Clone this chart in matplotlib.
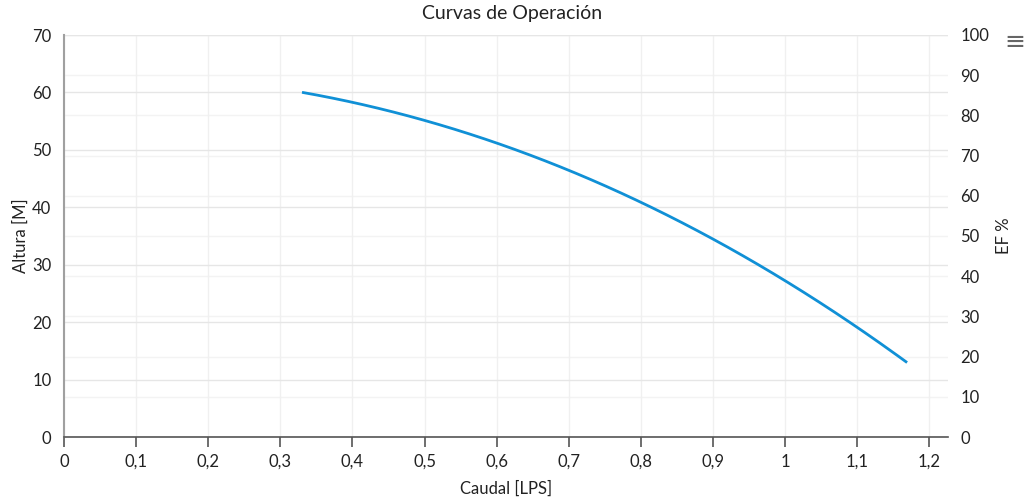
import matplotlib
matplotlib.use("Agg")
import matplotlib.pyplot as plt
import numpy as np

plt.rcParams['font.family'] = ['Lato', 'DejaVu Sans']

title = "Curvas de Operación"
caudal = [0.33, 0.40, 0.50, 0.60, 0.70, 0.80, 0.90, 1.00, 1.10, 1.169]
altura = [60.0, 58.3, 55.2, 51.0, 46.5, 41.0, 34.3, 27.3, 19.0, 13.0]
x_ticks = [0, 0.1, 0.2, 0.3, 0.4, 0.5, 0.6, 0.7, 0.8, 0.9, 1.0, 1.1, 1.2]
x_labels = ["0", "0,1", "0,2", "0,3", "0,4", "0,5", "0,6", "0,7", "0,8", "0,9", "1", "1,1", "1,2"]
y_left_ticks = [0, 10, 20, 30, 40, 50, 60, 70]
y_right_ticks = [0, 10, 20, 30, 40, 50, 60, 70, 80, 90, 100]

fig = plt.figure(figsize=(10.24, 5), dpi=100)
ax = fig.add_axes([64/1024, 63/500, 884/1024, 402/500])
ax2 = ax.twinx()
ax.set_zorder(ax2.get_zorder() + 1)
ax.patch.set_visible(False)

coef = np.polyfit(caudal, altura, 3)
xs = np.linspace(caudal[0], caudal[-1], 200)
ax.plot(xs, np.polyval(coef, xs), color='#1090d6', lw=2.0, solid_capstyle='butt', zorder=5)

ax.set_xlim(0, 884/721.2)
ax.set_ylim(0, 70)
ax2.set_ylim(0, 100)

ax.set_xticks(x_ticks)
ax.set_xticklabels(x_labels)
ax.set_yticks(y_left_ticks)
ax2.set_yticks(y_right_ticks)

ax.grid(True, axis='y', color='#e6e6e6', lw=1)
ax.grid(True, axis='x', color='#f0f0f0', lw=1)
ax2.grid(True, axis='y', color='#f3f3f3', lw=1)
ax.set_axisbelow(True)
ax2.set_axisbelow(True)

for a in (ax, ax2):
    for s in ['top', 'right']:
        a.spines[s].set_visible(False)
ax2.spines['left'].set_visible(False)
ax2.spines['bottom'].set_visible(False)
ax.spines['left'].set_color('#a0a0a0')
ax.spines['left'].set_linewidth(1.5)
ax.spines['bottom'].set_color('#555555')
ax.spines['bottom'].set_linewidth(1.2)

ax.tick_params(axis='x', length=7, width=1.2, color='#555555', labelsize=12, labelcolor='#222222', pad=5)
ax.tick_params(axis='y', length=0, labelsize=12, labelcolor='#222222', pad=9)
ax2.tick_params(axis='y', length=0, labelsize=12, labelcolor='#222222', pad=9)

ax.set_xlabel("Caudal [LPS]", fontsize=12, color='#222222', labelpad=8)
ax.set_ylabel("Altura [M]", fontsize=12, color='#222222')
ax2.set_ylabel("EF %", fontsize=12, color='#222222')
ax.yaxis.set_label_coords((29 - 64) / 884, 0.5)
ax2.yaxis.set_label_coords((996 - 64) / 884, 0.5)

fig.text(0.5, 1 - 13/500, title, ha='center', va='center', fontsize=14, color='#222222')
fig.text(1015/1024, 1 - 42/500, "≡", ha='center', va='center', fontsize=18, color='#666666',
         family=['DejaVu Sans'])

fig.savefig("out.png", dpi=100, facecolor='white')
